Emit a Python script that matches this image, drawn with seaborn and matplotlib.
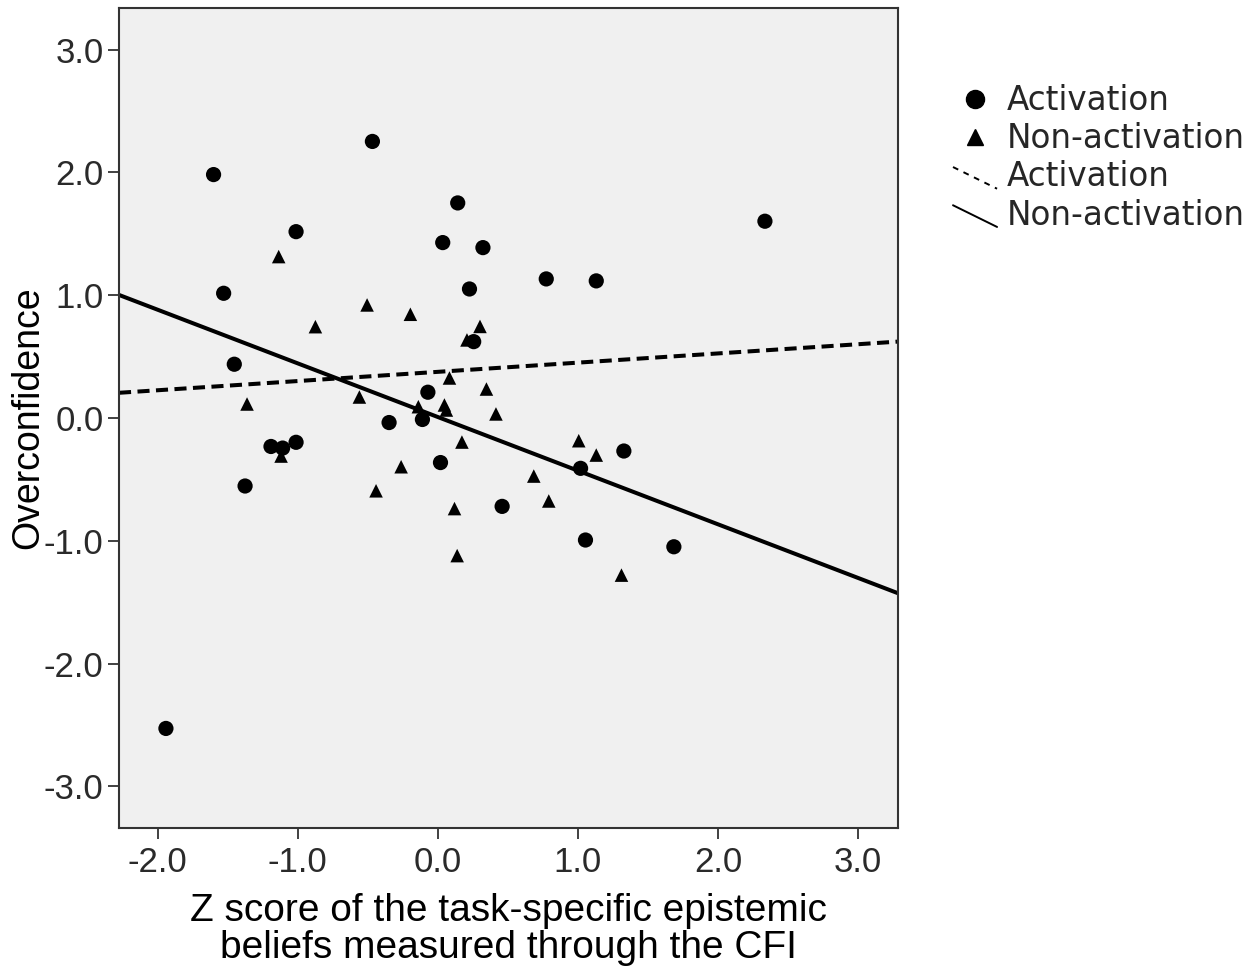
import numpy as np
import pandas as pd
import matplotlib
matplotlib.use("Agg")
import matplotlib.pyplot as plt
import seaborn as sns
from matplotlib.lines import Line2D
from matplotlib.legend_handler import HandlerBase

# ---- data ----
act_x = [-1.601, -0.467, -1.012, -1.529, -1.453, 0.142, 0.035, 0.322, 0.226, 0.774,
         1.131, 2.335, 0.256, -0.071, -0.110, -0.348, -1.191, -1.108, -1.012, -1.376,
         0.019, 0.459, 1.019, 1.328, 1.054, 1.685, -1.941]
act_y = [1.983, 2.253, 1.518, 1.016, 0.438, 1.752, 1.429, 1.388, 1.051, 1.133,
         1.117, 1.603, 0.622, 0.210, -0.012, -0.037, -0.232, -0.245, -0.198, -0.554,
         -0.363, -0.720, -0.410, -0.269, -0.994, -1.049, -2.529]
non_x = [-1.136, -0.505, -0.196, -0.874, 0.301, 0.208, 0.083, 0.347, -1.362, -0.560,
         -0.139, 0.047, 0.061, 0.415, -1.119, 0.172, 1.006, 1.131, -0.262, -0.441,
         0.685, 0.792, 0.119, 0.138, 1.311]
non_y = [1.315, 0.921, 0.845, 0.744, 0.746, 0.636, 0.326, 0.236, 0.114, 0.171,
         0.092, 0.106, 0.065, 0.033, -0.310, -0.196, -0.185, -0.302, -0.397, -0.593,
         -0.473, -0.676, -0.738, -1.121, -1.280]
# fit lines (intercept, slope)
fit_groups = ["Activation", "Non-activation"]
fit_intercepts = [0.376, 0.008]
fit_slopes = [0.075, -0.437]
yticks = [-3.0, -2.0, -1.0, 0.0, 1.0, 2.0, 3.0]
xticks = [-2.0, -1.0, 0.0, 1.0, 2.0, 3.0]

df = pd.DataFrame({
    "x": act_x + non_x,
    "y": act_y + non_y,
    "group": ["Activation"] * len(act_x) + ["Non-activation"] * len(non_x),
})

sns.set_theme(style="white")
plt.rcParams["font.family"] = ["DejaVu Sans"]

fig = plt.figure(figsize=(12.57, 9.67), dpi=100)
ax = fig.add_axes([119 / 1257, 1 - 828 / 967, (898 - 119) / 1257, (828 - 8) / 967])
ax.set_facecolor("#f0f0f0")

sns.scatterplot(data=df[df.group == "Activation"], x="x", y="y", marker="o",
                color="black", s=120, edgecolor="none", ax=ax, legend=False, zorder=3)
sns.scatterplot(data=df[df.group == "Non-activation"], x="x", y="y", marker="^",
                color="black", s=95, edgecolor="none", ax=ax, legend=False, zorder=3)

styles = {"Activation": (0, (3, 1.6)), "Non-activation": "-"}
for g, b, m in zip(fit_groups, fit_intercepts, fit_slopes):
    ax.axline((0, b), slope=m, color="black", lw=2.9, ls=styles[g], zorder=2)

ax.set_xlim(-2.276, 3.285)
ax.set_ylim(-3.34, 3.34)
ax.set_xticks(xticks)
ax.set_yticks(yticks)
ax.set_xticklabels([f"{t:.1f}" for t in xticks])
ax.set_yticklabels([f"{t:.1f}" for t in yticks])

arial = ["Liberation Sans", "DejaVu Sans"]
for lab in ax.get_xticklabels() + ax.get_yticklabels():
    lab.set_family(arial)
    lab.set_fontsize(25)
    lab.set_color("#2a2a2a")

ax.tick_params(axis="both", which="major", direction="out", length=8, width=1.3,
               color="#333333", bottom=True, left=True)
ax.tick_params(axis="x", pad=5)
ax.tick_params(axis="y", pad=3)

for sp in ax.spines.values():
    sp.set_color("#333333")
    sp.set_linewidth(1.5)

ax.set_xlabel("Z score of the task-specific epistemic\nbeliefs measured through the CFI",
              family=arial, fontsize=28, color="black", linespacing=1.05, labelpad=10)
ax.set_ylabel("Overconfidence", family=arial, fontsize=27, color="black")
ax.yaxis.set_label_coords(-0.094, 0.5)


class SlantHandler(HandlerBase):
    def create_artists(self, legend, orig_handle, xdescent, ydescent, width, height,
                       fontsize, trans):
        l = Line2D([-xdescent, -xdescent + width],
                   [-ydescent + height * 0.85, -ydescent - height * 0.1])
        self.update_prop(l, orig_handle, legend)
        l.set_transform(trans)
        return [l]


h1 = Line2D([], [], marker="o", ls="", color="black", markersize=13)
h2 = Line2D([], [], marker="^", ls="", color="black", markersize=11)
h3 = Line2D([], [], color="black", lw=1.4, ls=(0, (3, 3)))
h4 = Line2D([], [], color="black", lw=1.4, ls="-")
leg = fig.legend([h1, h2, h3, h4],
                 ["Activation", "Non-activation", "Activation", "Non-activation"],
                 handler_map={h3: SlantHandler(), h4: SlantHandler()},
                 loc="upper left", bbox_to_anchor=(953 / 1257, 1 - 84 / 967),
                 frameon=False, fontsize=23.5, handlelength=1.35, handletextpad=0.3,
                 labelspacing=0.16, borderpad=0, borderaxespad=0)

fig.savefig("out.png", dpi=100, facecolor="white")
